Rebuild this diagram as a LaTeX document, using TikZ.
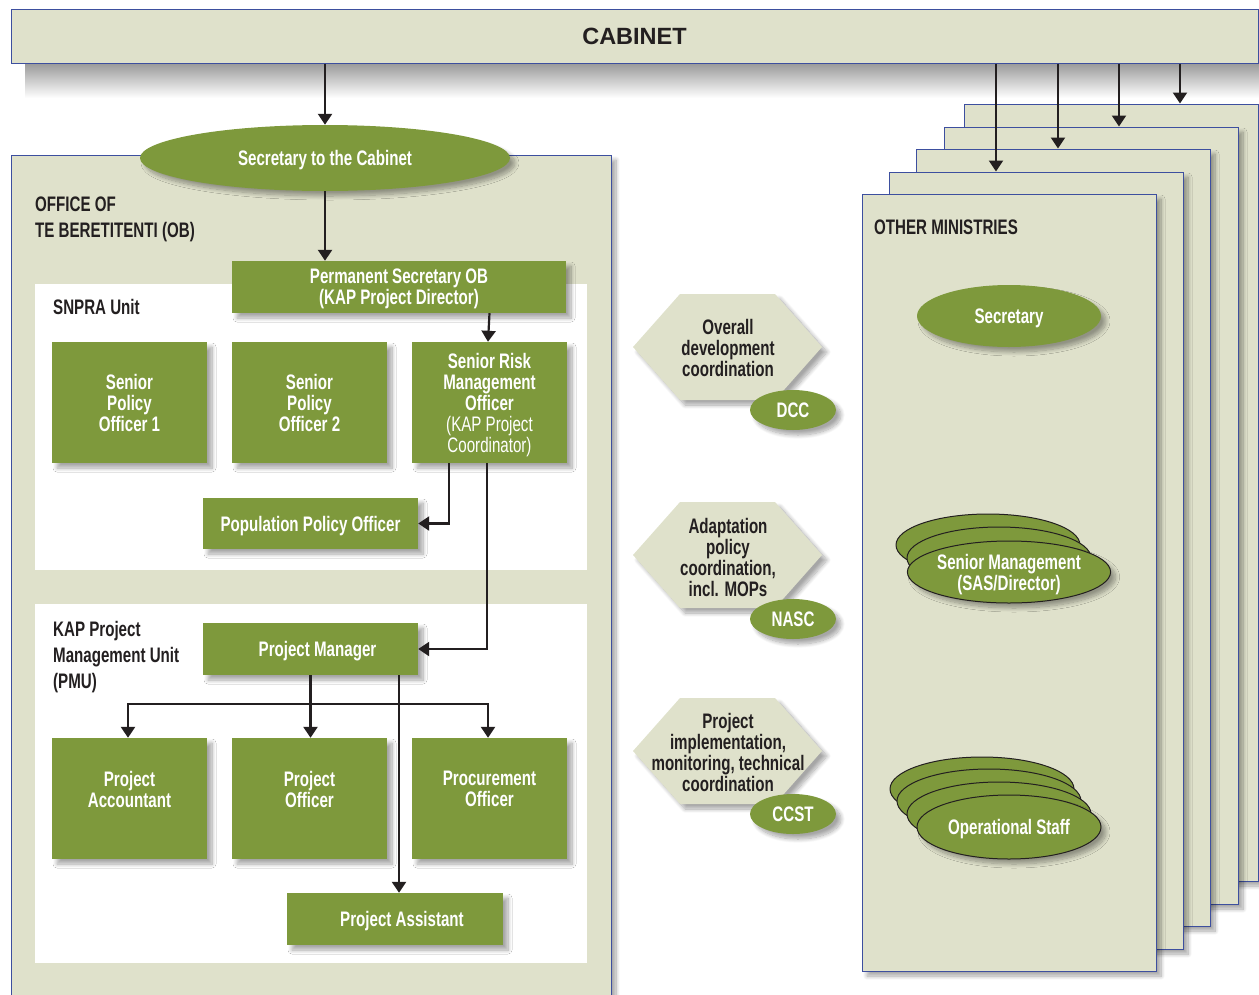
\documentclass[tikz,border=0pt]{standalone}
\usepackage{fontspec}
\setmainfont{Liberation Sans}
\newfontfamily\condfont{Liberation Sans}[FakeStretch=0.72]
\usetikzlibrary{arrows.meta,shadows,shadows.blur,calc,shapes.geometric}
\definecolor{kgreen}{RGB}{126,153,60}
\definecolor{klight}{RGB}{223,225,203}
\definecolor{kblue}{RGB}{61,79,159}
\definecolor{kdark}{RGB}{35,31,32}
\begin{document}
\begin{tikzpicture}[x=1pt,y=-1pt,
  shad/.style={blur shadow={shadow xshift=5pt,shadow yshift=-5pt,shadow blur radius=4pt,shadow blur steps=10,shadow opacity=35}},
  cf/.style={font=\condfont\bfseries\fontsize{21pt}{21pt}\selectfont},
  gbox/.style={rectangle,fill=kgreen,text=white,cf,align=center,inner sep=0pt,text depth=0pt,shad},
  gell/.style={ellipse,fill=kgreen,text=white,cf,align=center,inner sep=0pt,text depth=0pt,shad},
  sell/.style={ellipse,fill=kgreen,draw=kdark,line width=1pt,text=white,cf,align=center,inner sep=0pt,text depth=0pt},
  panel/.style={rectangle,fill=klight,draw=kblue,line width=1pt,inner sep=0pt,shad},
  wpanel/.style={rectangle,fill=white,inner sep=0pt},
  title/.style={text=kdark,cf,align=left,inner sep=0pt},
  hexfill/.style={fill=klight,shad},
  hextext/.style={text=kdark,cf,align=center,inner sep=0pt},
  arr/.style={-{Triangle[width=14pt,length=11pt]},line width=2.2pt,draw=kdark},
  ln/.style={line width=2.2pt,draw=kdark}]
\clip (0,0) rectangle (1259,994);
\useasboundingbox (0,0) rectangle (1259,994);

% cabinet shadow and cabinet
\shade[top color=black!40,bottom color=white] (25,63) rectangle (1259,98);
\node[rectangle,fill=klight,draw=kblue,line width=1pt,inner sep=0pt,
  minimum width=1247pt,minimum height=54pt,
  font=\bfseries\fontsize{23.5pt}{26pt}\selectfont,text=kdark] (cab) at (634.5,36) {CABINET};

% other ministries pages (back to front)
\node[panel,minimum width=294pt,minimum height=777pt] (m5) at (1111,492.5) {};
\node[panel,minimum width=294pt,minimum height=777pt] (m4) at (1091,515.5) {};
\node[panel,minimum width=294pt,minimum height=777pt] (m3) at (1063,537.5) {};
\node[panel,minimum width=294pt,minimum height=777pt] (m2) at (1036,560.5) {};
\node[panel,minimum width=294pt,minimum height=777pt] (m1) at (1009,582.5) {};
\node[title,anchor=west] (omtitle) at (874,227) {OTHER MINISTRIES};

\coordinate (a1) at ([xshift=-40pt]m2.north);
\coordinate (a2) at ([xshift=-5pt]m3.north);
\coordinate (a3) at ([xshift=28pt]m4.north);
\coordinate (a4) at ([xshift=69pt]m5.north);
\draw[arr] (cab.south -| a1) -- (a1);
\draw[arr] (cab.south -| a2) -- (a2);
\draw[arr] (cab.south -| a3) -- (a3);
\draw[arr] (cab.south -| a4) -- (a4);

\node[gell,minimum width=184pt,minimum height=62pt] (msec) at (1009,316) {Secretary};

\node[sell,minimum width=184pt,minimum height=62pt] (sm3) at (988,545) {};
\node[sell,minimum width=184pt,minimum height=62pt] (sm2) at (999,558) {};
\node[sell,minimum width=184pt,minimum height=62pt,shad] (sm1) at (1009,572) {Senior Management\\(SAS/Director)};

\node[sell,minimum width=184pt,minimum height=64pt] (os4) at (982,789) {};
\node[sell,minimum width=184pt,minimum height=64pt] (os3) at (989,801) {};
\node[sell,minimum width=184pt,minimum height=64pt] (os2) at (999,814) {};
\node[sell,minimum width=184pt,minimum height=64pt,shad] (os1) at (1009,827) {Operational Staff};

% office of te beretitenti
\node[panel,minimum width=600pt,minimum height=855pt] (ob) at (311,582.5) {};
\node[wpanel,minimum width=552pt,minimum height=286pt] (snpra) at (311,427) {};
\node[wpanel,minimum width=552pt,minimum height=359pt] (pmu) at (311,783.5) {};
\node[title,anchor=west,font=\condfont\bfseries\fontsize{21pt}{26pt}\selectfont] (obtitle) at (35,219) {OFFICE OF\\TE BERETITENTI (OB)};
\node[title,anchor=west] (snpratitle) at (53,307) {SNPRA Unit};
\node[title,anchor=west,font=\condfont\bfseries\fontsize{21pt}{26pt}\selectfont] (pmutitle) at (53,657) {KAP Project\\Management Unit\\(PMU)};

\node[gell,minimum width=370pt,minimum height=66pt] (sec) at (325,158) {Secretary to the Cabinet};
\node[gbox,minimum width=334pt,minimum height=52pt] (ps) at (399,287) {Permanent Secretary OB\\(KAP Project Director)};

\node[gbox,minimum width=155pt,minimum height=121pt] (spo1) at (129.5,402.5) {Senior\\Policy\\Officer 1};
\node[gbox,minimum width=155pt,minimum height=121pt] (spo2) at (309.5,402.5) {Senior\\Policy\\Officer 2};
\node[gbox,minimum width=155pt,minimum height=121pt] (srmo) at (489.5,402.5) {Senior Risk\\Management\\Officer\\{\mdseries (KAP Project}\\{\mdseries Coordinator)}};
\node[gbox,minimum width=215pt,minimum height=51pt] (ppo) at (310.5,523.5) {Population Policy Officer};

\node[gbox,minimum width=215pt,minimum height=52pt] (pm) at (310.5,649) {\hspace{14pt}Project Manager};
\node[gbox,minimum width=155pt,minimum height=121pt] (pacc) at (129.5,798.5) {Project\\Accountant\\[-2pt]\strut};
\node[gbox,minimum width=155pt,minimum height=121pt] (pof) at (309.5,798.5) {Project\\Officer\\[-2pt]\strut};
\node[gbox,minimum width=155pt,minimum height=121pt] (proc) at (489.5,798.5) {Procurement\\Officer\\[-2pt]\strut};
\node[gbox,minimum width=216pt,minimum height=52pt] (passt) at (395,919) {\hspace{14pt}Project Assistant};

% OB connectors
\draw[arr] (cab.south -| sec.north) -- (sec.north);
\draw[arr] (sec.south) -- (sec.south |- ps.north);
\draw[arr] (ps.south -| srmo.north) -- ([xshift=-1.5pt]srmo.north);
\draw[arr] ([xshift=-40.5pt]srmo.south) |- (ppo.east);
\draw[arr] ([xshift=-2.5pt]srmo.south) |- (pm.east);
\coordinate (bus) at ([yshift=-29pt]pm.south);
\draw[ln] (pm.south) -- (bus);
\draw[arr] (bus) -| ([xshift=-1.5pt]pacc.north);
\draw[arr] (bus) -- (bus |- pof.north);
\draw[arr] (bus) -| ([xshift=-1.5pt]proc.north);
\coordinate (pmdrop) at ([xshift=88.5pt]pm.south);
\draw[arr] (pmdrop) -- (pmdrop |- passt.north);

% coordination hexagons
\path[hexfill] (633,347) -- (680,294) -- (775,294) -- (822,347) -- (775,400) -- (680,400) -- cycle;
\node[hextext] (h1) at (728,348) {Overall\\development\\coordination};
\node[gell,minimum width=86pt,minimum height=40pt] (dcc) at (793,410) {DCC};

\path[hexfill] (633,555) -- (680,502) -- (775,502) -- (822,555) -- (775,608) -- (680,608) -- cycle;
\node[hextext] (h2) at (728,557) {Adaptation\\policy\\coordination,\\incl. MOPs};
\node[gell,minimum width=86pt,minimum height=40pt] (nasc) at (793,619) {NASC};

\path[hexfill] (633,751) -- (680,698) -- (775,698) -- (822,751) -- (775,804) -- (680,804) -- cycle;
\node[hextext] (h3) at (728,752) {Project\\implementation,\\monitoring, technical\\coordination};
\node[gell,minimum width=86pt,minimum height=40pt] (ccst) at (793,814) {CCST};
\end{tikzpicture}
\end{document}
